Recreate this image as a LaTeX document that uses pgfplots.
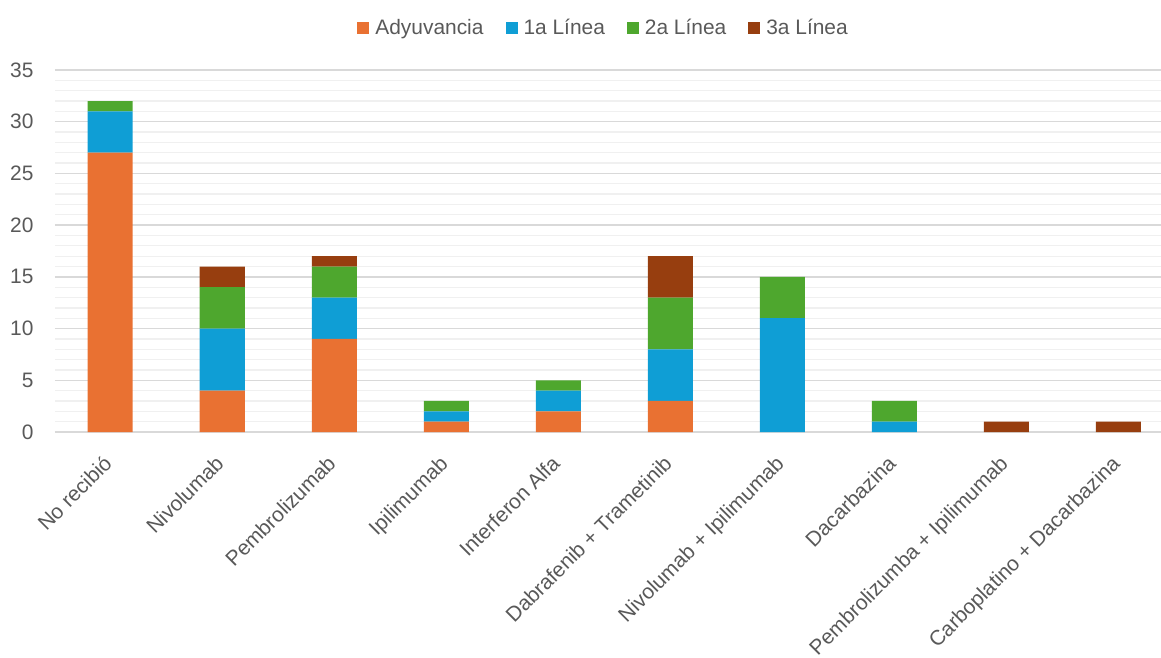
\documentclass[border=0pt]{standalone}
\usepackage{fontspec}
\setmainfont{Liberation Sans}
\usepackage{pgfplots}
\pgfplotsset{compat=1.18}

\definecolor{cAdy}{HTML}{E97132}
\definecolor{cL1}{HTML}{0F9ED5}
\definecolor{cL2}{HTML}{4EA72E}
\definecolor{cL3}{HTML}{973E0F}
\definecolor{txt}{HTML}{595959}
\definecolor{gmaj}{HTML}{D9D9D9}
\definecolor{gmin}{HTML}{F0F0F0}

\begin{document}
\begin{tikzpicture}
\begin{axis}[
  at={(0,0)}, anchor=south west,
  scale only axis,
  width=1106bp, height=362bp,
  ybar stacked,
  bar width=45bp,
  xmin=-0.493, xmax=9.38,
  ymin=0, ymax=35,
  ytick={0,5,...,35},
  minor y tick num=4,
  ymajorgrids, yminorgrids,
  major grid style={gmaj, line width=1.3bp},
  minor grid style={gmin, line width=1.3bp},
  axis line style={draw=none},
  tick style={draw=none},
  xtick={0,...,9},
  xticklabels={No recibió, Nivolumab, Pembrolizumab, Ipilimumab, Interferon Alfa,
    Dabrafenib + Trametinib, Nivolumab + Ipilimumab, Dacarbazina,
    Pembrolizumba + Ipilimumab, Carboplatino + Dacarbazina},
  xticklabel style={xshift=-8bp, yshift=-22bp, rotate=45, anchor=north east, inner sep=0pt,
    font=\fontsize{21}{24}\selectfont, text=txt},
  yticklabel style={font=\fontsize{21}{24}\selectfont, text=txt, xshift=-18bp},
  /pgf/number format/assume math mode=true,
  legend columns=4,
  legend style={at={(0.496,1.116)}, anchor=center, draw=none, fill=none,
    font=\fontsize{21}{24}\selectfont, text=txt,
    /tikz/every even column/.append style={column sep=20bp}},
  legend image code/.code={\fill[#1] (0bp,-6bp) rectangle (12bp,6bp); \path (16bp,0bp);},
  every axis plot/.append style={draw=none},
]
% Adyuvancia
\addplot[fill=cAdy] coordinates {(0,27) (1,4) (2,9) (3,1) (4,2) (5,3) (6,0) (7,0) (8,0) (9,0)};
% 1a Línea
\addplot[fill=cL1] coordinates {(0,4) (1,6) (2,4) (3,1) (4,2) (5,5) (6,11) (7,1) (8,0) (9,0)};
% 2a Línea
\addplot[fill=cL2] coordinates {(0,1) (1,4) (2,3) (3,1) (4,1) (5,5) (6,4) (7,2) (8,0) (9,0)};
% 3a Línea
\addplot[fill=cL3] coordinates {(0,0) (1,2) (2,1) (3,0) (4,0) (5,4) (6,0) (7,0) (8,1) (9,1)};
\legend{Adyuvancia, 1a Línea, 2a Línea, 3a Línea}
\end{axis}
\pgfresetboundingbox
\useasboundingbox (-55bp,-226bp) rectangle (1106bp,432bp);
\end{tikzpicture}
\end{document}
